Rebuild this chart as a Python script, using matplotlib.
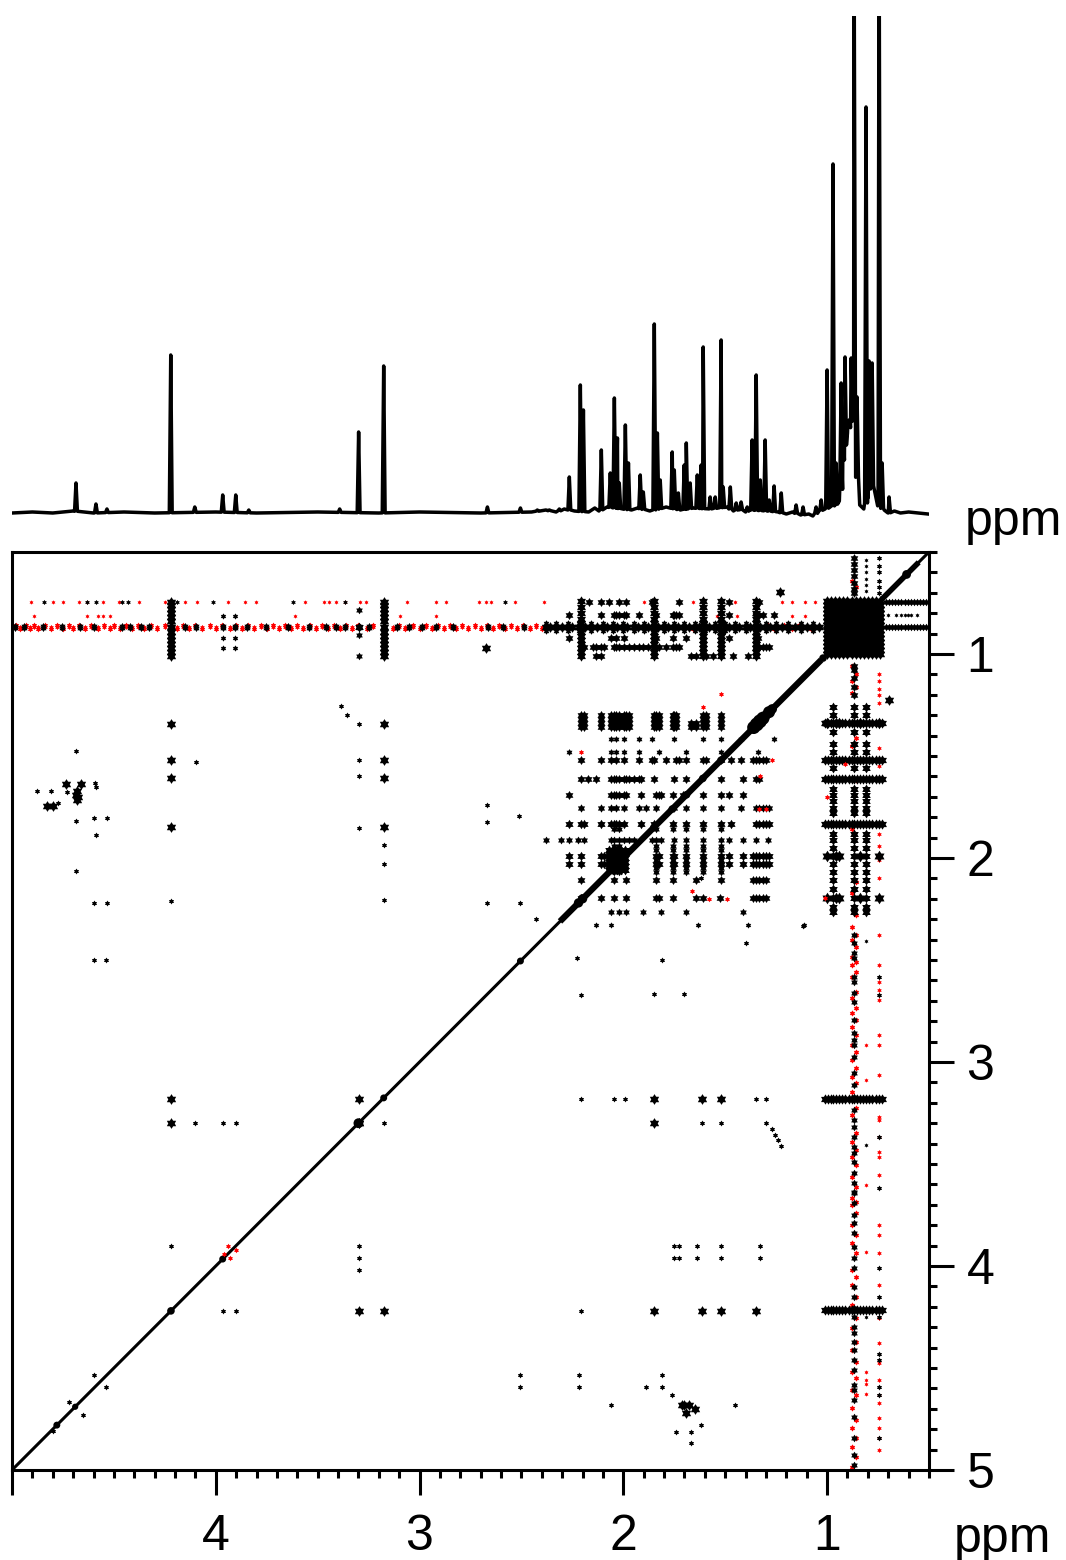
import numpy as np
import matplotlib
matplotlib.use('Agg')
import matplotlib.pyplot as plt
from matplotlib.path import Path
from matplotlib.ticker import FixedLocator, FixedFormatter

plt.rcParams['font.family'] = ['Liberation Sans', 'DejaVu Sans']

# 1D trace
base_ppm = [5.0, 4.9, 4.8, 4.7, 4.6, 4.45, 4.3, 4.0, 3.8, 3.5, 3.2, 3.0, 2.7, 2.45, 2.38, 2.33, 2.29, 2.24, 2.17, 2.14, 2.12,
            2.08, 1.96, 1.93, 1.87, 1.79, 1.72, 1.66, 1.58, 1.49, 1.46, 1.43, 1.40, 1.38, 1.29, 1.24, 1.20, 1.17, 1.13, 1.09,
            1.07, 1.04, 1.01, 0.985, 0.96, 0.94, 0.93, 0.92, 0.90, 0.87, 0.855, 0.84, 0.82, 0.80, 0.79, 0.77, 0.75,
            0.72, 0.70, 0.67, 0.64, 0.6, 0.55, 0.505]
base_int = [0, 1, 0, 2, 0, 1, 0, 1, 0, 1, 0, 1, 0, 1, 3, 1, 4, 2, 1, 5, 2,
            6, 3, 5, 2, 6, 3, 5, 4, 6, 2, 4, 1, 3, 2, 1, -1, 1, -2, -1,
            -3, 2, 4, 6, 8, 12, 25, 60, 80, 100, 40, 8, 4, 15, 30, 25, 8,
            3, 0, 2, 0, 1, 0, -1]
peak_ppm = [4.686, 4.588, 4.534, 4.221, 4.103, 3.966, 3.902, 3.838, 3.392, 3.299, 3.176, 2.667, 2.505, 2.422, 2.363,
            2.314, 2.265, 2.211, 2.196, 2.108, 2.064, 2.044, 2.029, 2.020, 1.990, 1.975, 1.917, 1.902, 1.848, 1.833,
            1.819, 1.760, 1.750, 1.730, 1.701, 1.691, 1.672, 1.637, 1.618, 1.608, 1.574, 1.549, 1.520, 1.510, 1.475,
            1.446, 1.422, 1.392, 1.368, 1.348, 1.328, 1.304, 1.284, 1.260, 1.225, 1.152, 1.118, 1.054, 1.029, 1.000,
            0.971, 0.956, 0.931, 0.922, 0.912, 0.892, 0.882, 0.868, 0.853, 0.809, 0.794, 0.779, 0.745, 0.730, 0.696]
peak_int = [30, 9, 4, 158, 6, 18, 18, 3, 4, 81, 147, 6, 5, 3, 3,
            4, 36, 128, 103, 63, 40, 115, 75, 30, 88, 50, 38, 21, 189, 80,
            33, 61, 43, 20, 48, 70, 30, 38, 48, 166, 16, 16, 173, 26, 26,
            10, 11, 6, 73, 138, 33, 73, 13, 27, 20, 8, 6, 6, 13, 143,
            349, 50, 130, 93, 156, 93, 155, 600, 116, 406, 152, 150, 600, 50, 16]

# 2D rows, F1 value and the F2 positions seen on that row
row_f1 = [1.30, 1.32, 1.34, 1.36, 1.417, 1.48, 1.52, 1.613, 1.691, 1.755, 1.833, 1.912, 1.99, 2.03, 2.108, 2.196, 2.265, 2.33]
row_f2_wide = [2.208, 2.191, 2.109, 2.060, 2.044, 2.036, 2.020, 1.995, 1.987, 1.971]
row_130 = row_f2_wide + [1.848, 1.840, 1.824, 1.758, 1.750, 1.742, 1.611, 1.595, 1.521]
row_134 = row_130 + [1.668, 1.644]
row_1417 = [2.060, 2.036, 1.995, 1.922, 1.859, 1.750, 1.611, 1.521, 1.423, 1.259]
row_148 = [2.265, 2.060, 2.036, 1.995, 1.922, 1.824, 1.693, 1.521, 1.340]
row_152 = [2.208, 2.109, 2.060, 2.036, 1.995, 1.922, 1.859, 1.848, 1.791, 1.742, 1.725, 1.693, 1.611, 1.595, 1.521,
           1.472, 1.423, 1.366, 1.349, 1.333, 1.317, 1.300]
row_1613 = [2.208, 2.175, 2.134, 2.060, 2.044, 2.036, 2.020, 1.995, 1.987, 1.971, 1.946, 1.922, 1.913, 1.848, 1.750,
            1.693, 1.521, 1.415, 1.349, 1.333]
row_1691 = [2.265, 2.060, 2.044, 2.036, 2.020, 1.995, 1.987, 1.913, 1.840, 1.824, 1.816, 1.758, 1.709, 1.611, 1.521, 1.480, 1.415]
row_1755 = [2.208, 2.109, 2.060, 2.036, 1.995, 1.922, 1.889, 1.840, 1.750, 1.693, 1.611, 1.521, 1.423, 1.349, 1.333, 1.317, 1.300, 1.284]
row_1833 = [2.265, 2.208, 2.191, 2.109, 2.060, 2.044, 2.036, 2.020, 1.995, 1.913, 1.848, 1.758, 1.693, 1.611, 1.521,
            1.472, 1.349, 1.333, 1.317, 1.300, 1.284]
row_1912 = [2.379, 2.306, 2.265, 2.224, 2.191, 2.060, 2.044, 2.020, 1.995, 1.971, 1.946, 1.859, 1.840, 1.816, 1.750,
            1.693, 1.611, 1.521, 1.480, 1.415, 1.349, 1.292]
row_199 = [2.265, 2.208, 2.109, 2.093, 2.060, 2.044, 2.036, 2.020, 1.840, 1.824, 1.758, 1.750, 1.693, 1.611, 1.521,
           1.480, 1.415, 1.366, 1.349, 1.333, 1.317, 1.300, 1.284]
row_2108 = [2.208, 2.044, 1.987, 1.840, 1.758, 1.644, 1.521, 1.366, 1.349, 1.333, 1.317, 1.300]
row_2196 = [2.208, 2.109, 2.044, 1.987, 1.840, 1.824, 1.758, 1.644, 1.611, 1.528, 1.366, 1.349, 1.333, 1.317, 1.300]
row_2265 = [2.060, 2.020, 1.987, 1.905, 1.816, 1.693, 1.415]
row_233 = [2.134, 2.060, 1.636, 1.390, 1.112]
dense_rows = [row_130, row_130, row_134, row_134, row_1417, row_148, row_152, row_1613, row_1691, row_1755, row_1833,
              row_1912, row_199, row_199, row_2108, row_2196, row_2265, row_233]
row_sizes = [42, 42, 42, 42, 24, 24, 42, 42, 42, 36, 46, 32, 46, 46, 42, 42, 30, 20]

# columns that stay elongated in the dense block
stretch_f2 = [2.044, 2.020, 1.840, 1.758, 1.693, 1.611, 1.521]
stretch_f1 = [1.86, 1.94, 1.96, 2.01, 2.05, 2.07]
block_202_f2 = [2.07, 2.05, 2.03, 2.01, 1.99]
block_202_f1 = [1.96, 1.98, 2.00, 2.02, 2.04, 2.06]

# same band on the right, F2 about 1.0 to 0.72
right_wide = [1.01, 0.995, 0.98, 0.97, 0.955, 0.94, 0.925, 0.91, 0.895, 0.88, 0.868, 0.855, 0.84, 0.825, 0.81, 0.795,
              0.78, 0.76, 0.745, 0.73]
right_f1_wide = [1.34, 1.52, 1.613, 1.833, 3.18, 4.215]
right_cols = [0.971, 0.868, 0.81]
right_col_f1 = [1.26, 1.30, 1.38, 1.44, 1.48, 1.56, 1.66, 1.69, 1.72, 1.755, 1.78, 1.88, 1.91, 1.95, 1.99, 2.03, 2.07,
                2.11, 2.15, 2.196, 2.24, 2.265]
right_extra_f2 = [1.00, 0.955, 0.94, 0.84, 0.745]
right_extra_f1 = [1.34, 1.99, 2.196]

# upper band rows
band_f1 = [0.743, 0.81, 0.92, 0.966, 1.01]
band_f2_cols = [2.208, 1.848, 1.611, 1.521, 1.349]
band_col_f1 = [0.74, 0.77, 0.80, 0.83, 0.85, 0.89, 0.91, 0.93, 0.95, 0.97, 0.99, 1.01]
row_0743 = [2.167, 2.109, 2.069, 2.020, 1.987, 1.859, 1.725, 1.480, 1.333]
row_081 = [2.265, 2.109, 2.044, 2.036, 2.020, 1.995, 1.987, 1.922, 1.840, 1.758, 1.750, 1.742, 1.725, 1.480, 1.349, 1.333, 1.317, 1.259]
row_092 = [2.265, 2.060, 2.036, 1.995, 1.840, 1.758, 1.693, 1.480, 1.340]
row_0966 = [2.208, 2.191, 2.150, 2.134, 2.109, 2.093, 2.044, 2.036, 2.020, 1.995, 1.971, 1.946, 1.922, 1.905, 1.880, 1.824,
            1.791, 1.758, 1.742, 1.725, 1.349, 1.333, 1.317, 1.300, 1.284]
row_101 = [2.134, 2.109, 1.668, 1.644, 1.595, 1.562, 1.462, 1.390]
band_rows = [row_0743, row_081, row_092, row_0966, row_101]
row_087_f2 = [2.38, 2.36, 2.33, 2.30, 2.27, 2.25, 2.22, 2.19, 2.16, 2.13, 2.10, 2.08, 2.05, 2.03, 2.00, 1.98, 1.95, 1.93, 1.90, 1.88,
              1.85, 1.83, 1.80, 1.78, 1.75, 1.73, 1.70, 1.68, 1.65, 1.63, 1.60, 1.58, 1.55, 1.53, 1.50, 1.48, 1.45, 1.43,
              1.40, 1.38, 1.35, 1.33, 1.30, 1.28, 1.25, 1.22, 1.19, 1.16, 1.13, 1.10, 1.07, 1.04]
row_087_black_left = [4.985, 4.943, 4.850, 4.757, 4.664, 4.597, 4.462, 4.420, 4.369, 4.327, 4.217, 4.150, 4.099, 3.964,
                      3.905, 3.846, 3.754, 3.644, 3.543, 3.459, 3.408, 3.366, 3.298, 3.248, 3.175, 3.113, 3.054, 2.986,
                      2.919, 2.835, 2.666, 2.590, 2.489]
row_087_red = [4.98, 4.96, 4.93, 4.91, 4.89, 4.87, 4.84, 4.81, 4.78, 4.75, 4.72, 4.70, 4.67, 4.64, 4.61, 4.58, 4.55, 4.52, 4.50,
               4.47, 4.44, 4.41, 4.38, 4.35, 4.32, 4.29, 4.25, 4.19, 4.16, 4.13, 4.10, 4.07, 4.03, 4.00, 3.97, 3.93, 3.90,
               3.87, 3.84, 3.81, 3.78, 3.75, 3.72, 3.69, 3.66, 3.63, 3.60, 3.57, 3.54, 3.51, 3.48, 3.45, 3.42, 3.39, 3.36,
               3.33, 3.30, 3.26, 3.23, 3.13, 3.10, 3.07, 3.03, 3.00, 2.97, 2.94, 2.91, 2.88, 2.85, 2.82, 2.79, 2.76, 2.73,
               2.70, 2.67, 2.64, 2.61, 2.58, 2.55, 2.52, 2.49, 2.46, 2.43, 2.40, 2.00, 1.66, 1.29, 1.26, 1.21, 1.17, 1.14, 1.08]
row_0743_red = [4.905, 4.799, 4.749, 4.673, 4.631, 4.555, 4.474, 4.378, 4.251, 4.150, 4.091, 3.939, 3.855, 3.804, 3.560,
                3.467, 3.442, 3.408, 3.366, 3.290, 3.265, 3.062, 2.919, 2.868, 2.708, 2.674, 2.649, 2.531, 2.388, 1.90,
                1.66, 1.61, 1.45, 1.35, 1.22, 1.17, 1.11, 1.06]
row_0743_black = [4.845, 4.631, 4.588, 4.462, 4.432, 4.217, 4.189, 4.015, 3.619, 3.366, 3.175, 2.582]
row_081_red = [4.892, 4.631, 4.580, 4.555, 4.521, 3.610, 3.096, 2.919, 1.54, 1.44, 1.17, 1.11]

col_4_f1 = [0.743, 0.76, 0.78, 0.80, 0.82, 0.84, 0.868, 0.89, 0.91, 0.93, 0.95, 0.97, 0.99, 1.01]
col_4_f2 = [4.221, 3.176]
col_39_f1 = [0.814, 0.868, 0.92, 0.97]
col_39_f2 = [3.964, 3.905]

# F2 = 0.868 and 0.745 columns running the full height
col_087_top = [0.53, 0.56, 0.59, 0.62, 0.65, 0.68, 0.70, 1.06, 1.08, 1.12, 1.16, 1.20]
col_087_black = [2.378, 2.418, 2.467, 2.492, 2.582, 2.606,
                 2.663, 2.704, 2.794, 2.860, 2.892, 2.917, 2.974, 3.056, 3.113, 3.170, 3.235, 3.284, 3.317, 3.366, 3.415,
                 3.448, 3.489, 3.546, 3.595, 3.636, 3.643, 3.692, 3.750, 3.790, 3.839, 3.905, 3.962, 4.011, 4.101, 4.150,
                 4.207, 4.248, 4.297, 4.330, 4.371, 4.411, 4.460, 4.509, 4.583, 4.607, 4.656, 4.738, 4.844, 4.926, 4.975]
col_087_red = [0.64, 0.67, 1.06, 1.10, 1.13, 1.16, 1.19, 1.41, 1.45, 1.62, 1.86, 2.12, 2.17, 2.28, 2.337, 2.378, 2.402, 2.435, 2.484, 2.508,
               2.525, 2.557, 2.582, 2.655, 2.688, 2.737, 2.762, 2.794, 2.827, 2.868, 2.917, 2.949, 2.990, 3.031, 3.072,
               3.105, 3.146, 3.227, 3.260, 3.350, 3.391, 3.431, 3.464, 3.505, 3.562, 3.611, 3.668, 3.684, 3.701, 3.741,
               3.799, 3.848, 3.888, 3.937, 4.019, 4.052, 4.093, 4.150, 4.191, 4.256, 4.305, 4.371, 4.411, 4.469, 4.518,
               4.550, 4.607, 4.632, 4.697, 4.754, 4.795, 4.844, 4.885, 4.934, 4.983]
col_074_red = [1.10, 1.13, 1.17, 1.20, 1.24, 1.46, 1.55, 1.62, 1.88, 1.94, 2.01, 2.10, 2.378, 2.525, 2.606, 2.647, 2.696, 2.868,
               2.917, 3.064, 3.268, 3.284, 3.366, 3.440, 3.464, 3.554, 3.798, 3.848, 3.938, 4.093, 4.256, 4.378, 4.477,
               4.558, 4.632, 4.673, 4.747, 4.795, 4.844, 4.902]
col_074_black = [0.53, 0.57, 0.60, 0.64, 0.67, 0.70, 2.582, 2.672, 3.366, 3.620, 4.011, 4.150, 4.215, 4.248, 4.431, 4.460, 4.591, 4.632, 4.844]
col_081_red = [2.917, 3.088, 3.603, 3.929, 4.518, 4.558, 4.578, 4.627]
col_081_black = [0.54, 0.57, 0.60, 0.63, 0.66, 0.69, 2.407, 3.407, 4.248]

# right of the square
tail_f2 = [0.71, 0.695, 0.68, 0.665, 0.65, 0.635, 0.62, 0.605, 0.59, 0.575, 0.56, 0.545, 0.53, 0.515]
tail_f1 = [0.743, 0.87]
tail_f1_sparse = [0.81]
tail_f2_sparse = [0.70, 0.66, 0.635, 0.62, 0.605, 0.59, 0.56]

# square of methyl correlations
square_f2 = [1.00, 0.98, 0.96, 0.94, 0.92, 0.90, 0.88, 0.86, 0.84, 0.82, 0.80, 0.78, 0.76, 0.74]
square_f1 = [1.00, 0.98, 0.96, 0.94, 0.92, 0.90, 0.88, 0.86, 0.84, 0.82, 0.80, 0.78, 0.76, 0.74]

# isolated cross peaks: F2, F1, size class
small_f2 = [4.876, 4.810, 4.729, 4.776, 4.593, 4.588, 4.684, 4.598, 4.536, 4.588, 4.684, 4.598, 4.536, 4.598, 4.539, 4.098,
            3.387, 3.355, 2.667, 2.667, 2.667, 2.510, 2.505, 2.43, 2.225, 2.21, 1.809, 1.397, 1.118, 1.85, 1.70, 1.62,
            4.686, 4.221, 3.299, 3.299, 3.299, 3.299, 3.176, 3.176, 3.176, 2.21, 2.044, 1.99, 1.35, 1.30,
            4.103, 3.966, 3.902, 1.30, 1.27, 1.255, 1.24, 1.225, 3.176, 1.613, 1.52,
            4.221, 3.299, 3.299, 3.299, 1.750, 1.725, 1.640, 1.520, 1.330, 1.750, 1.725, 1.640, 1.520, 1.330,
            3.966, 3.902, 2.21, 2.505, 2.505, 2.22, 2.22, 2.06, 1.89, 1.81, 1.81, 1.76, 1.45, 1.74, 1.67, 1.67,
            4.598, 4.54, 4.72, 4.65, 4.80, 1.62]
small_f1 = [1.672, 1.672, 1.675, 1.73, 1.634, 1.654, 1.818, 1.804, 1.804, 1.889, 2.062, 2.219, 2.219, 2.50, 2.50, 1.528,
            1.255, 1.30, 1.74, 1.824, 2.22, 1.794, 2.22, 2.30, 2.49, 2.67, 2.50, 2.417, 2.333, 2.667, 2.667, 2.10,
            1.476, 2.21, 1.343, 1.52, 1.598, 1.853, 1.936, 2.03, 2.206, 3.18, 3.18, 3.18, 3.18, 3.18,
            3.30, 3.30, 3.30, 3.30, 3.33, 3.36, 3.38, 3.41, 3.30, 3.30, 3.30,
            3.902, 3.902, 3.961, 4.02, 3.902, 3.902, 3.902, 3.902, 3.902, 3.961, 3.961, 3.961, 3.961, 3.961,
            4.22, 4.22, 4.22, 4.534, 4.593, 4.534, 4.593, 4.681, 4.593, 4.534, 4.593, 4.632, 4.681, 4.814, 4.814, 4.868,
            4.534, 4.593, 4.667, 4.73, 4.81, 4.78]
big_f2 = [4.735, 4.662, 4.827, 4.797, 4.68, 4.685, 4.675, 4.68, 4.221, 4.221, 4.221, 4.221, 3.176, 3.176, 3.176, 3.176,
          4.221, 3.299, 1.848, 1.613, 1.520, 1.848, 4.221, 3.299, 3.176, 3.299, 1.848, 1.613, 1.520, 1.348,
          1.71, 1.70, 1.68, 1.692, 1.23, 0.696, 2.676, 3.299, 1.65]
big_f1 = [1.639, 1.639, 1.743, 1.743, 1.67, 1.69, 1.70, 1.715, 1.345, 1.519, 1.607, 1.846, 1.345, 1.519, 1.607, 1.846,
          3.18, 3.18, 3.18, 3.18, 3.18, 3.30, 3.30, 3.30, 4.22, 4.22, 4.22, 4.22, 4.22, 4.22,
          4.681, 4.68, 4.68, 4.72, 0.696, 1.225, 0.97, 3.30, 4.70]
red_f2 = [3.94, 3.90, 3.93, 3.96, 2.206, 1.664, 1.61, 1.52, 1.27, 1.33, 1.00, 1.58, 1.49, 1.333, 1.30, 0.91, 1.01]
red_f1 = [3.90, 3.92, 3.96, 3.94, 1.48, 2.16, 1.26, 1.195, 1.52, 1.60, 1.70, 2.20, 2.20, 1.76, 1.76, 1.54, 2.196]

# diagonal
diag_ppm = [5.0, 0.5]
diag_thick_ppm = [2.3, 1.04]
diag_top_ppm = [0.72, 0.56]
diag_blob = [4.78, 4.69, 4.22, 3.966, 3.30, 3.176, 2.505, 2.22, 2.20, 1.85, 1.76, 1.69,
             1.61, 1.52, 1.36, 1.345, 1.33, 1.315, 1.30, 1.285, 1.27, 1.02, 0.61]
diag_blob_size = [25, 20, 30, 25, 50, 25, 25, 45, 45, 30, 30, 30, 30, 30, 90, 100, 100, 90, 50, 75, 50, 30, 40]

majors = [1, 2, 3, 4, 5]
minors = [0.5, 0.6, 0.7, 0.8, 0.9, 1.1, 1.2, 1.3, 1.4, 1.5, 1.6, 1.7, 1.8, 1.9, 2.1, 2.2, 2.3, 2.4, 2.5, 2.6, 2.7, 2.8, 2.9,
          3.1, 3.2, 3.3, 3.4, 3.5, 3.6, 3.7, 3.8, 3.9, 4.1, 4.2, 4.3, 4.4, 4.5, 4.6, 4.7, 4.8, 4.9]
x_tick_labels = ['1', '2', '3', '4', '']
y_tick_labels = ['1', '2', '3', '4', '5']

W, H = 1066, 1560
fig = plt.figure(figsize=(W / 100, H / 100), dpi=100)

# spectrum on top
ax1 = fig.add_axes([12 / W, 1 - 525 / H, 917 / W, 509 / H])
ax1.axis('off')
ax1.set_xlim(5, 0.5)
ax1.set_ylim(-12, 497)
trace_x = []
trace_y = []
for i in np.argsort(peak_ppm)[::-1]:
    p = peak_ppm[i]
    b = np.interp(p, base_ppm[::-1], base_int[::-1])
    trace_x += [p + 0.007, p, p - 0.007]
    trace_y += [b, peak_int[i], b]
all_x = np.array(trace_x + base_ppm)
all_y = np.array(trace_y + base_int)
idx = np.argsort(all_x)[::-1]
ax1.plot(all_x[idx], all_y[idx], color='k', lw=2.5, solid_joinstyle='round')

# 2D map
ax2 = fig.add_axes([12 / W, 1 - 1470 / H, 917 / W, 918 / H])
ax2.set_xlim(5, 0.5)
ax2.set_ylim(5, 0.5)

# the contour specks look like fat stars
speck = Path.unit_regular_star(6, innerCircle=0.6)


def cross(f2, f1, s, color='k', z=3):
    # every F2 position against every F1 position
    xx, yy = np.meshgrid(f2, f1)
    ax2.scatter(xx.ravel(), yy.ravel(), marker=speck, s=s, c=color, linewidths=0, zorder=z)


ax2.plot(diag_ppm, diag_ppm, color='k', lw=2.2, zorder=4)
ax2.plot(diag_thick_ppm, diag_thick_ppm, color='k', lw=4.5, zorder=4)
ax2.plot(diag_top_ppm, diag_top_ppm, color='k', lw=4, zorder=4)
ax2.scatter(diag_blob, diag_blob, s=diag_blob_size, marker='o', c='k', linewidths=0, zorder=4)

# noise lines, red under black
cross(row_087_red[::2], [0.856], 18, 'r', 2)
cross(row_087_red[1::2], [0.878], 18, 'r', 2)
cross(row_087_red, [0.868], 14, 'r', 2)
cross(row_0743_red, [0.743], 10, 'r', 2)
cross(row_081_red, [0.814], 10, 'r', 2)
cross([0.878], col_087_red[::2], 20, 'r', 2)
cross([0.860], col_087_red[1::2], 20, 'r', 2)
cross([0.745], col_074_red, 13, 'r', 2)
cross([0.81], col_081_red, 10, 'r', 2)
cross(row_087_black_left, [0.862, 0.874], 26)
cross(row_087_f2, [0.868], 60)
cross(row_087_f2[::2], [0.85, 0.886], 22)
cross(row_0743_black, [0.743], 14)
cross([0.868], col_087_top, 40)
cross([0.868], col_087_black, 30)
cross([0.745], col_074_black, 18)
cross([0.81], col_081_black, 10)

cross(col_4_f2, col_4_f1, 60)
cross(col_39_f2, col_39_f1, 20)
cross([3.299], [0.784, 0.868, 0.905, 1.01], 30)
cross([3.299], [0.868], 50)
cross(band_f2_cols, band_col_f1, 55)

for f1, row in zip(band_f1, band_rows):
    cross(row, [f1], 42)

for f1, row, s in zip(row_f1, dense_rows, row_sizes):
    cross(row, [f1], s)
cross(stretch_f2, stretch_f1, 30)
cross(block_202_f2, block_202_f1, 50)

cross(right_wide, right_f1_wide, 55)
cross(right_cols, right_col_f1, 50)
cross(right_extra_f2, right_extra_f1, 70)
cross(square_f2, square_f1, 60)
cross(tail_f2, tail_f1, 30)
cross(tail_f2_sparse, tail_f1_sparse, 10)

ax2.scatter(small_f2, small_f1, marker=speck, s=18, c='k', linewidths=0, zorder=3)
ax2.scatter(big_f2, big_f1, marker=speck, s=60, c='k', linewidths=0, zorder=3)
ax2.scatter(red_f2, red_f1, marker=speck, s=16, c='r', linewidths=0, zorder=5)

for side in ax2.spines.values():
    side.set_linewidth(2.2)
ax2.xaxis.set_major_locator(FixedLocator(majors))
ax2.xaxis.set_major_formatter(FixedFormatter(x_tick_labels))
ax2.xaxis.set_minor_locator(FixedLocator(minors))
ax2.yaxis.set_major_locator(FixedLocator(majors))
ax2.yaxis.set_major_formatter(FixedFormatter(y_tick_labels))
ax2.yaxis.set_minor_locator(FixedLocator(minors))
ax2.yaxis.tick_right()
ax2.xaxis.tick_bottom()
ax2.tick_params(axis='both', which='major', length=18, width=2.2, labelsize=36)
ax2.tick_params(axis='both', which='minor', length=6, width=2.2)
ax2.tick_params(axis='x', which='major', pad=14)
ax2.tick_params(axis='y', which='major', pad=9)

fig.text(965 / W, 1 - 535 / H, 'ppm', fontsize=36, va='baseline', ha='left')
fig.text(954 / W, 1 - 1552 / H, 'ppm', fontsize=36, va='baseline', ha='left')

fig.savefig('out.png', dpi=100)
